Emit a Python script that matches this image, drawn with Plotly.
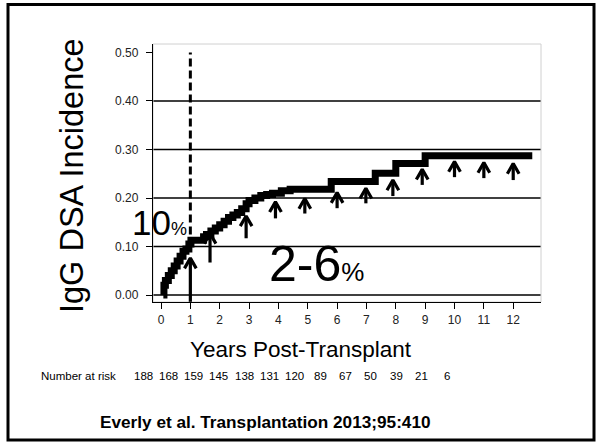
import plotly.graph_objects as go

# Kaplan-Meier style cumulative incidence of IgG DSA
years = [0.08, 0.1, 0.15, 0.25, 0.35, 0.45, 0.55, 0.65, 0.75, 0.85, 0.95, 1.02,
         1.45, 1.55, 1.7, 1.85, 2.0, 2.15, 2.3, 2.45, 2.6, 2.75, 2.9, 3.0,
         3.2, 3.4, 3.6, 3.8, 4.1, 4.4, 5.8, 7.3, 8.0, 9.0, 12.65]
incidence = [0.0, 0.02, 0.03, 0.04, 0.05, 0.06, 0.07, 0.08, 0.09, 0.095, 0.105, 0.113,
             0.12, 0.125, 0.132, 0.138, 0.145, 0.152, 0.16, 0.165, 0.17, 0.178, 0.188, 0.195,
             0.2, 0.205, 0.207, 0.21, 0.215, 0.218, 0.234, 0.251, 0.271, 0.287, 0.287]

# censoring arrows (x, arrow tip, arrow base)
censor_years = [1.0, 1.67, 2.9, 3.9, 4.9, 6.0, 6.98, 7.9, 8.9, 10.0, 11.0, 12.0]
censor_tip = [0.076, 0.127, 0.163, 0.192, 0.199, 0.211, 0.220, 0.237, 0.259, 0.275, 0.273, 0.271]
censor_base = [-0.014, 0.067, 0.117, 0.158, 0.168, 0.179, 0.189, 0.204, 0.227, 0.243, 0.241, 0.237]

# vertical dashed marker at 1 year
landmark_year = 1.0
landmark_top = 0.5
landmark_bottom = 0.125

grid_values = [0.0, 0.1, 0.2, 0.3, 0.4]
y_ticks = [0.0, 0.1, 0.2, 0.3, 0.4, 0.5]
x_ticks = list(range(0, 13))

number_at_risk = [188, 168, 159, 145, 138, 131, 120, 89, 67, 50, 39, 21, 6]

W, H = 596, 444
L, R, T, B = 153, 55, 44, 142
PW, PH = W - L - R, H - T - B


def px(x):
    return (x - L) / PW


def py(y):
    return (H - B - y) / PH


FONT = "Liberation Sans, Arial, sans-serif"

fig = go.Figure()

# censor arrows: shaft + open chevron head
hw, hh = 0.2, 0.021
ax, ay = [], []
for t, tip, base in zip(censor_years, censor_tip, censor_base):
    ax += [t, t, None, t - hw, t, t + hw, None]
    ay += [base, tip, None, tip - hh, tip, tip - hh, None]
fig.add_trace(go.Scatter(x=ax, y=ay, mode="lines", line=dict(color="black", width=3.2),
                         hoverinfo="skip", showlegend=False))

# dashed landmark line
fig.add_trace(go.Scatter(x=[landmark_year, landmark_year], y=[landmark_bottom, landmark_top],
                         mode="lines", line=dict(color="black", width=3, dash="8px,4px"),
                         hoverinfo="skip", showlegend=False))

# incidence curve
fig.add_trace(go.Scatter(x=years, y=incidence, mode="lines", line_shape="hv",
                         line=dict(color="black", width=7), showlegend=False))

# gridlines (no line at 0.5)
for g in grid_values:
    fig.add_shape(type="line", xref="paper", yref="y", x0=0, x1=1, y0=g, y1=g,
                  line=dict(color="black", width=1.3), layer="below")

# light plot-area frame
fig.add_shape(type="rect", xref="paper", yref="paper", x0=0, x1=1, y0=0, y1=1,
              line=dict(color="#d0d0d0", width=1), layer="below")

# outer slide frame
fig.add_shape(type="rect", xref="paper", yref="paper", x0=px(8), x1=px(594), y0=py(440), y1=py(4.5),
              line=dict(color="black", width=3))

fig.update_xaxes(range=[-0.2726, 12.947], tickvals=x_ticks, showgrid=False, zeroline=False,
                 showline=True, linecolor="black", linewidth=1.3, ticks="outside", ticklen=6,
                 tickcolor="black", tickfont=dict(size=12, color="#222", family=FONT))
fig.update_yaxes(range=[-0.0144, 0.5175], tickvals=y_ticks, tickformat=".2f", showgrid=False,
                 zeroline=False, showline=True, linecolor="black", linewidth=1.3, ticks="outside",
                 ticklen=6, tickcolor="black", ticklabelstandoff=5,
                 tickfont=dict(size=12, color="#222", family=FONT))

ann = []
ann.append(dict(x=px(72), y=py(176), text="IgG DSA Incidence", textangle=-90,
                font=dict(size=32.5, family=FONT, color="black")))
ann.append(dict(x=px(301), y=py(350), text="Years Post-Transplant",
                font=dict(size=22.5, family=FONT, color="black")))
ann.append(dict(x=px(130), y=py(222), xanchor="left", text="10<span style='font-size:18px'>%</span>",
                font=dict(size=35, family=FONT, color="black")))
ann.append(dict(x=px(267), y=py(264), xanchor="left", text="2-6<span style='font-size:26px'>%</span>",
                font=dict(size=50, family=FONT, color="black")))
ann.append(dict(x=px(118), y=py(376), xanchor="right", text="Number at risk",
                font=dict(size=11.5, family=FONT, color="black")))
for i, n in enumerate(number_at_risk):
    ann.append(dict(x=px(143 + 25.3 * i), y=py(376), text=str(n),
                    font=dict(size=11.5, family=FONT, color="black")))
ann.append(dict(x=px(265), y=py(422), text="<b>Everly et al. Transplantation 2013;95:410</b>",
                font=dict(size=17.2, family=FONT, color="black")))
for a in ann:
    a.setdefault("xanchor", "center")
    a.update(xref="paper", yref="paper", yanchor="middle", showarrow=False)

fig.update_layout(width=W, height=H, margin=dict(l=L, r=R, t=T, b=B),
                  paper_bgcolor="white", plot_bgcolor="white", annotations=ann,
                  font=dict(family=FONT))

fig.write_html("out.html", config={"displayModeBar": False},
               post_script="document.body.style.margin='0';")
